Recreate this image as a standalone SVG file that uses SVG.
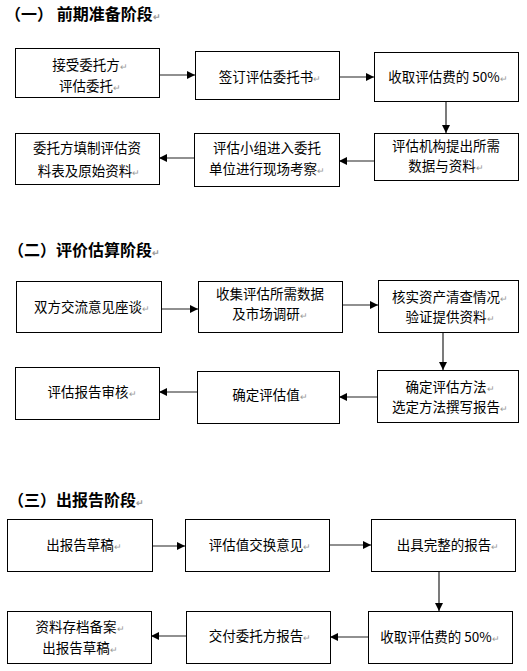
<svg xmlns="http://www.w3.org/2000/svg" width="527" height="671" viewBox="0 0 527 671">
<defs>
<style>
.bx{fill:#fff;stroke:#000;stroke-width:1}
.t{font-family:"Noto Sans CJK SC","Noto Sans CJK JP",sans-serif;font-size:13.5px;fill:#000;text-anchor:middle}
.h{font-family:"Noto Sans CJK SC","Noto Sans CJK JP",sans-serif;font-size:16px;font-weight:bold;fill:#000}
.m{fill:#999;font-size:9px}
.c{stroke:#222;stroke-width:1.2;fill:none;marker-end:url(#ah)}
</style>
<marker id="ah" viewBox="0 0 10 10" refX="10" refY="5" markerWidth="8" markerHeight="8" markerUnits="userSpaceOnUse" orient="auto">
<path d="M0,0 L10,5 L0,10 z" fill="#000"/>
</marker>
</defs>
<rect width="527" height="671" fill="#fff"/>

<text class="h" x="5" y="20">（一） 前期准备阶段<tspan class="m">↵</tspan></text>
<text class="h" x="8" y="256">（二）评价估算阶段<tspan class="m">↵</tspan></text>
<text class="h" x="8" y="506">（三）出报告阶段<tspan class="m">↵</tspan></text>

<g id="connectors">
<line class="c" x1="160" y1="75" x2="195" y2="75"/>
<line class="c" x1="339" y1="77" x2="374" y2="77"/>
<line class="c" x1="446" y1="101" x2="446" y2="133"/>
<line class="c" x1="374" y1="161" x2="339" y2="161"/>
<line class="c" x1="194" y1="158" x2="159" y2="158"/>

<line class="c" x1="161" y1="309" x2="198" y2="309"/>
<line class="c" x1="342" y1="305" x2="378" y2="305"/>
<line class="c" x1="443" y1="332" x2="443" y2="370"/>
<line class="c" x1="377" y1="397" x2="339" y2="397"/>
<line class="c" x1="197" y1="392" x2="159" y2="392"/>

<line class="c" x1="152" y1="546" x2="185" y2="546"/>
<line class="c" x1="329" y1="545" x2="371" y2="545"/>
<line class="c" x1="439" y1="571" x2="439" y2="611"/>
<line class="c" x1="368" y1="637" x2="330" y2="637"/>
<line class="c" x1="186" y1="636" x2="151" y2="636"/>
</g>

<g id="n1"><rect class="bx" x="15.5" y="48.5" width="144" height="49"/>
<text class="t" x="90" y="70">接受委托方<tspan class="m">↵</tspan></text>
<text class="t" x="90" y="91">评估委托<tspan class="m">↵</tspan></text></g>
<g id="n2"><rect class="bx" x="195.5" y="51.5" width="144" height="48"/>
<text class="t" x="270" y="82">签订评估委托书<tspan class="m">↵</tspan></text></g>
<g id="n3"><rect class="bx" x="374.5" y="52.5" width="144" height="49"/>
<text class="t" x="448" y="82">收取评估费的 50%<tspan class="m">↵</tspan></text></g>
<g id="n4"><rect class="bx" x="374.5" y="133.5" width="144" height="47"/>
<text class="t" x="446" y="151">评估机构提出所需</text>
<text class="t" x="446" y="171">数据与资料<tspan class="m">↵</tspan></text></g>
<g id="n5"><rect class="bx" x="194.5" y="133.5" width="145" height="53"/>
<text class="t" x="267" y="153">评估小组进入委托</text>
<text class="t" x="267" y="174">单位进行现场考察<tspan class="m">↵</tspan></text></g>
<g id="n6"><rect class="bx" x="15.5" y="133.5" width="144" height="51"/>
<text class="t" x="87" y="153">委托方填制评估资</text>
<text class="t" x="89" y="176">料表及原始资料<tspan class="m">↵</tspan></text></g>

<g id="n7"><rect class="bx" x="16.5" y="281.5" width="145" height="51"/>
<text class="t" x="92" y="312">双方交流意见座谈<tspan class="m">↵</tspan></text></g>
<g id="n8"><rect class="bx" x="198.5" y="281.5" width="144" height="51"/>
<text class="t" x="270" y="299">收集评估所需数据</text>
<text class="t" x="270" y="319">及市场调研<tspan class="m">↵</tspan></text></g>
<g id="n9"><rect class="bx" x="378.5" y="280.5" width="140" height="52"/>
<text class="t" x="450" y="302">核实资产清查情况<tspan class="m">↵</tspan></text>
<text class="t" x="450" y="322">验证提供资料<tspan class="m">↵</tspan></text></g>
<g id="n10"><rect class="bx" x="377.5" y="370.5" width="141" height="52"/>
<text class="t" x="450" y="392">确定评估方法<tspan class="m">↵</tspan></text>
<text class="t" x="450" y="412">选定方法撰写报告<tspan class="m">↵</tspan></text></g>
<g id="n11"><rect class="bx" x="197.5" y="371.5" width="142" height="52"/>
<text class="t" x="270" y="400">确定评估值<tspan class="m">↵</tspan></text></g>
<g id="n12"><rect class="bx" x="15.5" y="367.5" width="144" height="52"/>
<text class="t" x="92" y="397">评估报告审核<tspan class="m">↵</tspan></text></g>

<g id="n13"><rect class="bx" x="7.5" y="519.5" width="145" height="52"/>
<text class="t" x="84" y="550">出报告草稿<tspan class="m">↵</tspan></text></g>
<g id="n14"><rect class="bx" x="185.5" y="519.5" width="144" height="52"/>
<text class="t" x="260" y="550">评估值交换意见<tspan class="m">↵</tspan></text></g>
<g id="n15"><rect class="bx" x="371.5" y="519.5" width="144" height="52"/>
<text class="t" x="448" y="550">出具完整的报告<tspan class="m">↵</tspan></text></g>
<g id="n16"><rect class="bx" x="368.5" y="611.5" width="144" height="52"/>
<text class="t" x="440" y="642">收取评估费的 50%<tspan class="m">↵</tspan></text></g>
<g id="n17"><rect class="bx" x="186.5" y="611.5" width="144" height="52"/>
<text class="t" x="260" y="641">交付委托方报告<tspan class="m">↵</tspan></text></g>
<g id="n18"><rect class="bx" x="7.5" y="611.5" width="144" height="52"/>
<text class="t" x="80" y="632">资料存档备案<tspan class="m">↵</tspan></text>
<text class="t" x="80" y="653">出报告草稿<tspan class="m">↵</tspan></text></g>
</svg>
